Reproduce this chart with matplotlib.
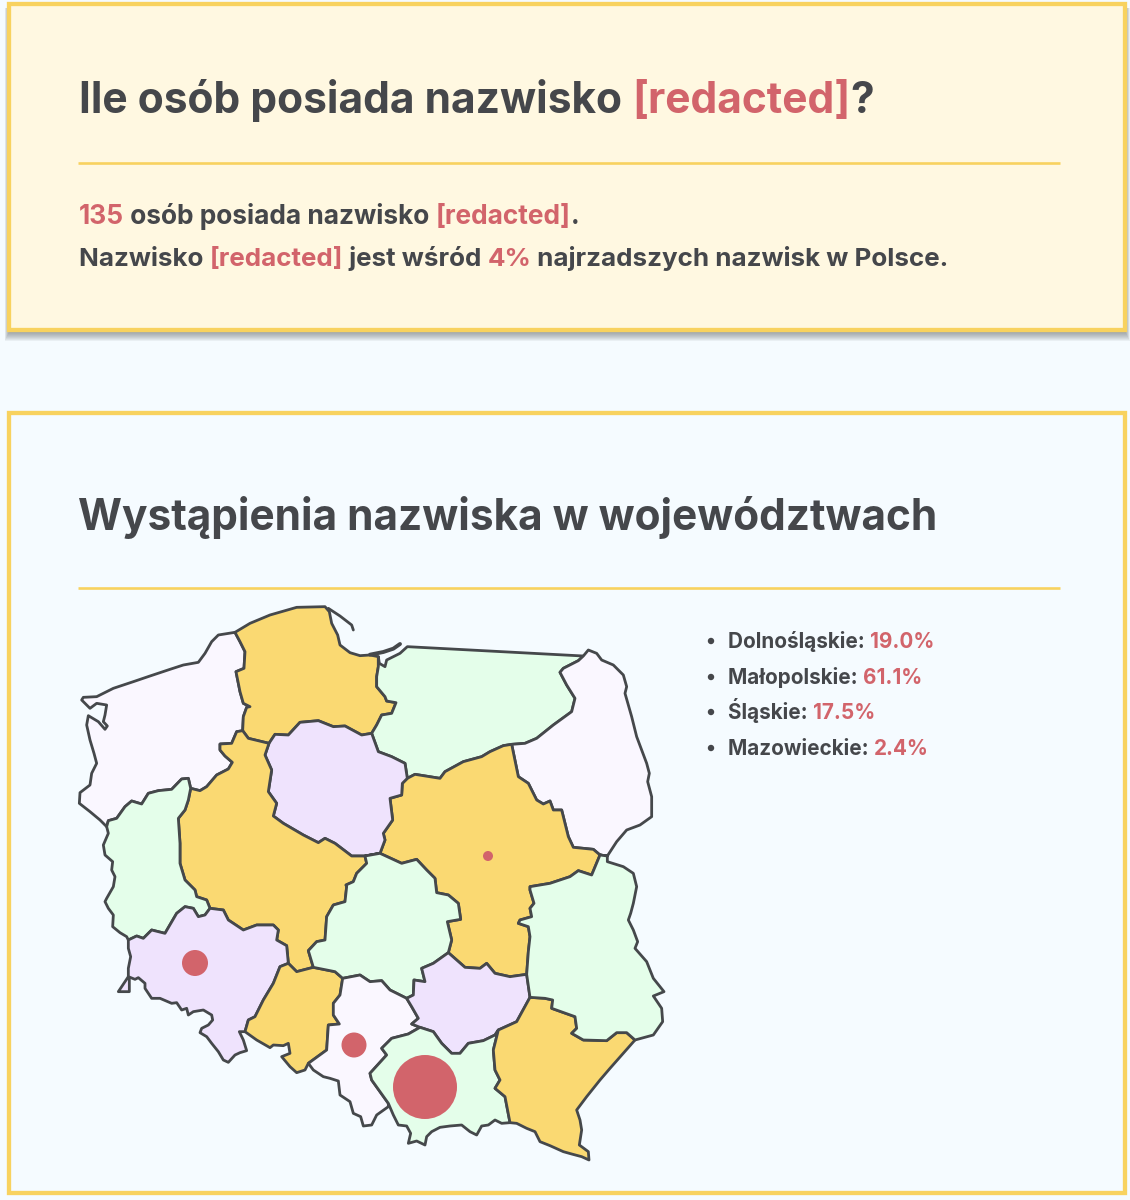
import matplotlib
matplotlib.use("Agg")
import matplotlib.pyplot as plt
from matplotlib.patches import Rectangle, Polygon, Circle

plt.rcParams['font.family'] = ['Inter', 'DejaVu Sans']

BG = '#F5FBFF'
PANEL = '#FFF8E1'
GOLD = '#F8D25F'
DARK = '#45474B'
RED = '#D2646B'
OUTLINE = '#45484B'
ORANGE = '#FAD972'
GREEN = '#E4FEEA'
PALE = '#FAF7FF'
PURPLE = '#EFE3FD'

regions_list = ['Dolnośląskie', 'Małopolskie', 'Śląskie', 'Mazowieckie']
shares = [19.0, 61.1, 17.5, 2.4]

title_top = [('Ile osób posiada nazwisko ', DARK), ('[redacted]', RED), ('?', DARK)]
line_one = [('135', RED), (' osób posiada nazwisko ', DARK), ('[redacted]', RED), ('.', DARK)]
line_two = [('Nazwisko ', DARK), ('[redacted]', RED), (' jest wśród ', DARK), ('4%', RED),
            (' najrzadszych nazwisk w Polsce.', DARK)]
title_map = 'Wystąpienia nazwiska w województwach'


def crop(ox, oy, pts):
    return [(ox + x / 3, oy + y / 3) for x, y in pts]


def z1(*pts):
    return crop(70, 600, pts)


def z2(*pts):
    return crop(370, 600, pts)


def z3(*pts):
    return crop(100, 880, pts)


def z4(*pts):
    return crop(370, 880, pts)


def rev(pts):
    return pts[::-1]


# shared borders between voivodeships
coast_zach = z1((495, 97), (445, 105), (425, 125), (405, 160), (385, 187), (340, 195), (300, 208), (240, 228),
                (190, 245), (130, 265), (80, 290), (40, 292), (35, 300), (60, 325), (80, 310), (110, 315),
                (105, 345), (100, 365), (112, 378), (105, 388), (85, 365), (55, 347), (50, 375), (60, 420),
                (72, 460), (80, 490), (65, 520), (60, 555), (30, 578), (28, 610), (60, 635), (90, 660), (110, 680))
zach_lub = z1((110, 680), (115, 662), (140, 655), (165, 620), (185, 603), (215, 612), (235, 580), (265, 572),
              (305, 568), (335, 537), (355, 535), (362, 565))
zach_wlkp = z1((362, 565), (390, 572), (410, 560), (440, 525), (475, 507), (487, 487), (465, 468), (450, 450),
               (450, 432), (485, 430), (500, 395), (518, 392))
zach_pom = z1((518, 392), (520, 350), (530, 322), (540, 320), (520, 310), (510, 275), (498, 215), (522, 205),
              (525, 155), (510, 125), (495, 97))
wlkp_pom = z1((518, 392), (535, 415), (597, 430))
pom_kuj = z1((597, 430), (615, 403), (655, 405), (690, 367), (745, 362), (790, 380), (825, 378), (875, 405)) + \
    z2((5, 400))
pom_warm = z2((5, 400), (20, 375), (35, 345), (65, 340), (78, 308), (50, 303), (45, 290), (20, 260), (20, 230),
              (25, 200), (25, 170))
coast_pom = z1((495, 97), (540, 70), (600, 45), (680, 22), (765, 20), (778, 35), (785, 70), (803, 105), (810, 135),
               (840, 158), (870, 167)) + z2((0, 165), (25, 170))
warm_north = z2((25, 170), (28, 190), (45, 200), (50, 180), (90, 160), (112, 140), (640, 168))
warm_podl = z2((640, 168), (625, 182), (580, 205), (570, 217), (590, 255), (615, 295), (605, 335), (550, 375),
               (500, 415), (465, 430), (425, 433))
warm_maz = z2((425, 433), (400, 437), (360, 455), (335, 470), (280, 485), (225, 515), (210, 535), (135, 523),
              (112, 535))
warm_kuj = z2((112, 535), (105, 490), (65, 470), (25, 455), (5, 400))
podl_east = z2((640, 168), (655, 150), (680, 160), (695, 180), (730, 195), (760, 225), (770, 260), (765, 280),
               (785, 350), (800, 410), (830, 490), (838, 520), (833, 545), (845, 590), (845, 650), (810, 675),
               (770, 690), (740, 725), (712, 768))
podl_maz = z2((712, 768), (690, 765), (670, 748), (610, 742), (595, 710), (575, 630), (550, 630), (540, 603),
              (520, 612), (500, 600), (475, 550), (445, 530), (425, 433))
maz_lub = z2((712, 768), (690, 765), (665, 825), (625, 812), (600, 830), (540, 850), (480, 860)) + \
    z4((480, 30), (492, 70), (480, 85), (485, 110), (450, 120), (445, 130), (475, 140), (480, 170), (475, 215),
       (470, 283))
maz_swiet = z4((470, 283), (420, 290), (375, 280), (350, 250), (330, 265), (285, 262), (235, 218))
maz_lodz = z4((235, 218), (245, 180), (232, 125), (272, 118), (265, 70), (235, 45), (200, 38)) + \
    z2((195, 835), (170, 810), (140, 778), (95, 790), (30, 760))
maz_kuj = z2((30, 760), (45, 720), (40, 700), (68, 660), (60, 595), (95, 585), (97, 550), (112, 535))
kuj_wlkp = z2((30, 760)) + z1((885, 768), (845, 768), (795, 730), (765, 715), (745, 728), (700, 705), (640, 670),
                              (610, 648), (620, 610), (595, 575), (605, 510), (585, 465), (597, 430))
wlkp_lodz = z2((30, 760)) + z1((885, 768), (890, 790), (860, 820), (850, 845), (828, 855)) + \
    z3((740, 20), (735, 65), (700, 75), (680, 110), (675, 180), (650, 185), (625, 212), (640, 262))
wlkp_op = z3((640, 262), (590, 275), (565, 250))
wlkp_dol = z3((565, 250), (560, 197), (530, 180), (535, 150), (520, 135), (470, 135), (430, 150), (385, 120),
              (370, 90), (330, 85))
wlkp_lub = z3((330, 85), (320, 60), (290, 50), (285, 30), (255, 0)) + \
    z1((330, 790), (330, 730), (325, 655), (345, 630), (355, 600), (362, 565))
lub_west = z1((110, 680), (115, 700), (100, 735), (105, 765), (128, 785), (125, 810), (135, 830), (130, 860),
              (110, 895)) + \
    z3((15, 65), (25, 85), (40, 105), (38, 140), (60, 158), (80, 170), (85, 180))
lub_dol = z3((85, 180), (110, 168), (130, 175), (155, 150), (195, 160), (230, 100), (255, 80), (280, 85),
             (295, 110), (315, 105), (330, 85))
dol_south = z3((85, 180), (85, 205), (92, 230), (85, 265), (85, 290), (105, 298), (115, 293), (135, 310),
               (135, 325), (155, 355), (180, 355), (215, 370), (230, 368), (245, 390), (260, 385), (265, 405),
               (280, 395), (310, 390), (335, 405), (338, 420), (325, 435), (305, 445), (300, 458), (320, 470),
               (335, 490), (355, 515), (370, 540), (385, 547), (405, 525), (420, 518), (440, 512), (430, 480),
               (418, 455), (435, 455))
dol_op = z3((435, 455), (445, 420), (465, 410), (490, 360), (520, 310), (540, 260), (565, 250))
op_south = z3((435, 455), (470, 480), (510, 503), (520, 495), (550, 497), (565, 490), (570, 520), (545, 530),
              (570, 560), (590, 578), (615, 570), (625, 550))
op_slask = z3((625, 550), (680, 510), (685, 435), (718, 432), (700, 405), (700, 370), (720, 345), (728, 295))
op_lodz = z3((728, 295), (705, 275), (640, 262))
lodz_swiet = z4((235, 218), (190, 250), (155, 265), (165, 305), (132, 300), (130, 345), (110, 355))
lodz_slask = z4((110, 355), (60, 330), (35, 302), (0, 305)) + z3((780, 285), (728, 295))
slask_swiet = z4((110, 355), (125, 380), (145, 415), (125, 432), (150, 442))
slask_mal = z4((150, 442), (115, 462), (65, 475), (35, 505), (50, 525), (0, 580), (5, 600), (55, 670))
slask_south = z4((55, 670), (55, 680), (20, 705), (5, 735)) + \
    z3((790, 738), (782, 710), (760, 700), (750, 665), (720, 645), (715, 603), (690, 595), (670, 590), (640, 570),
       (625, 550))
swiet_lub = z4((470, 283), (480, 352))
swiet_pod = z4((480, 352), (440, 425), (385, 450))
swiet_mal = z4((385, 450), (375, 465), (340, 482), (295, 490), (270, 520), (245, 520), (215, 490), (190, 455),
               (150, 442))
mal_pod = z4((385, 450), (370, 510), (375, 570), (390, 600), (375, 625), (405, 650), (420, 728))
mal_south = z4((420, 728), (395, 730), (375, 720), (355, 735), (335, 738), (320, 765), (300, 755), (275, 735),
               (240, 738), (210, 742), (185, 755), (170, 770), (165, 795), (140, 783), (115, 790), (122, 760),
               (110, 738), (85, 735), (70, 705), (55, 670))
pod_lub = z4((480, 352), (525, 355), (548, 360), (545, 385), (615, 410), (620, 445), (605, 460), (640, 480),
             (710, 482), (740, 458), (770, 458), (795, 480))
pod_south = z4((795, 480), (720, 565), (690, 600), (650, 650), (620, 690), (630, 720), (635, 750), (628, 795),
               (655, 815), (657, 840), (635, 830), (605, 822), (580, 815), (540, 797), (510, 785), (495, 755),
               (470, 745), (440, 730), (420, 728))
lubel_east = z2((712, 768), (712, 785), (760, 800), (790, 820), (800, 860)) + \
    z4((790, 70), (782, 100), (775, 120), (790, 150), (803, 185), (795, 205), (830, 245), (850, 295), (882, 335),
       (850, 348), (875, 385), (878, 425), (850, 465), (795, 480))

hel = z1((775, 25), (810, 48), (845, 75), (850, 90))
spit = z2((0, 164), (40, 156), (70, 146), (90, 132))
islet = z3((85, 290), (55, 335), (88, 335), (88, 298))

map_regions = [
    (coast_zach + zach_lub + zach_wlkp + zach_pom, PALE),
    (coast_pom + rev(pom_warm) + rev(pom_kuj) + rev(wlkp_pom) + zach_pom, ORANGE),
    (warm_north + warm_podl + warm_maz + warm_kuj + pom_warm, GREEN),
    (podl_east + podl_maz + rev(warm_podl), PALE),
    (rev(warm_maz) + rev(podl_maz) + maz_lub + maz_swiet + maz_lodz + maz_kuj, ORANGE),
    (pom_kuj + rev(warm_kuj) + rev(maz_kuj) + kuj_wlkp, PURPLE),
    (wlkp_pom + rev(kuj_wlkp) + wlkp_lodz + wlkp_op + wlkp_dol + wlkp_lub + zach_wlkp, ORANGE),
    (lub_west + lub_dol + wlkp_lub + rev(zach_lub), GREEN),
    (dol_south + dol_op + wlkp_dol + rev(lub_dol), PURPLE),
    (islet, PURPLE),
    (rev(dol_op) + op_south + op_slask + op_lodz + wlkp_op, ORANGE),
    (rev(maz_lodz) + lodz_swiet + lodz_slask + op_lodz + rev(wlkp_lodz), GREEN),
    (rev(lodz_slask) + slask_swiet + slask_mal + slask_south + op_slask, PALE),
    (rev(maz_swiet) + swiet_lub + swiet_pod + swiet_mal + rev(slask_swiet) + rev(lodz_swiet), PURPLE),
    (rev(swiet_mal) + mal_pod + mal_south + rev(slask_mal), GREEN),
    (rev(swiet_pod) + pod_lub + pod_south + rev(mal_pod), ORANGE),
    (rev(maz_lub) + lubel_east + rev(pod_lub) + rev(swiet_lub), GREEN),
]

# bubble centre and radius, same order as regions_list
bubble_x = [195, 425, 354, 488]
bubble_y = [963, 1087, 1045, 856]
bubble_r = [13, 32, 12.5, 5]

fig = plt.figure(figsize=(11.3, 12), dpi=100, facecolor=BG)
ax = fig.add_axes([0, 0, 1, 1])
ax.set_xlim(0, 1130)
ax.set_ylim(1200, 0)
ax.axis('off')


def draw_runs(x, y, runs, size, weight):
    renderer = fig.canvas.get_renderer()
    for s, color in runs:
        ax.text(x, y, s, fontsize=size, fontweight=weight, color=color, va='baseline', ha='left', zorder=6)
        # trailing spaces are not counted by the extent, measure with nbsp instead
        probe = ax.text(0, 0, s.replace(' ', '\u00a0'), fontsize=size, fontweight=weight)
        x += probe.get_window_extent(renderer).width
        probe.remove()
    return x


# soft shadow under the top panel
for i in range(9):
    grow = 9 - i
    ax.add_patch(Rectangle((9 - grow * 0.5, 8), 1116 + grow, 324 + grow, facecolor='#5a6064', alpha=0.075,
                           edgecolor='none', zorder=1))
ax.add_patch(Rectangle((9, 4), 1116, 326, facecolor=PANEL, edgecolor=GOLD, linewidth=3.1, zorder=2))
ax.add_patch(Rectangle((9, 413), 1116, 780, facecolor=BG, edgecolor=GOLD, linewidth=3.1, zorder=2))

ax.plot([78, 1060], [162.5, 162.5], color=GOLD, lw=1.9, solid_capstyle='butt', zorder=3)
ax.plot([78, 1060], [588, 588], color=GOLD, lw=1.9, solid_capstyle='butt', zorder=3)

draw_runs(79, 113, title_top, 30.6, 'bold')
draw_runs(79, 224, line_one, 18.9, 'bold')
draw_runs(79, 266, line_two, 18.7, 'bold')
ax.text(78, 530, title_map, fontsize=30.5, fontweight='bold', color=DARK, va='baseline', ha='left', zorder=6)

for pts, color in map_regions:
    ax.add_patch(Polygon(pts, closed=True, facecolor=color, edgecolor=OUTLINE, linewidth=2.0, joinstyle='round',
                         zorder=4))
for pts, width in [(hel, 2.0), (spit, 2.8)]:
    ax.plot([p[0] for p in pts], [p[1] for p in pts], color=OUTLINE, lw=width, solid_capstyle='round', zorder=4)

for x, y, r in zip(bubble_x, bubble_y, bubble_r):
    ax.add_patch(Circle((x, y), r, facecolor=RED, edgecolor='none', zorder=5))

list_y = [648, 684, 719, 755]
for name, share, y in zip(regions_list, shares, list_y):
    ax.add_patch(Circle((711, y - 7), 3.2, facecolor=DARK, edgecolor='none', zorder=5))
    draw_runs(728, y, [(name + ': ', DARK), (f'{share:.1f}%', RED)], 14.9, 'bold')

fig.savefig('out.png', dpi=100, facecolor=BG)
